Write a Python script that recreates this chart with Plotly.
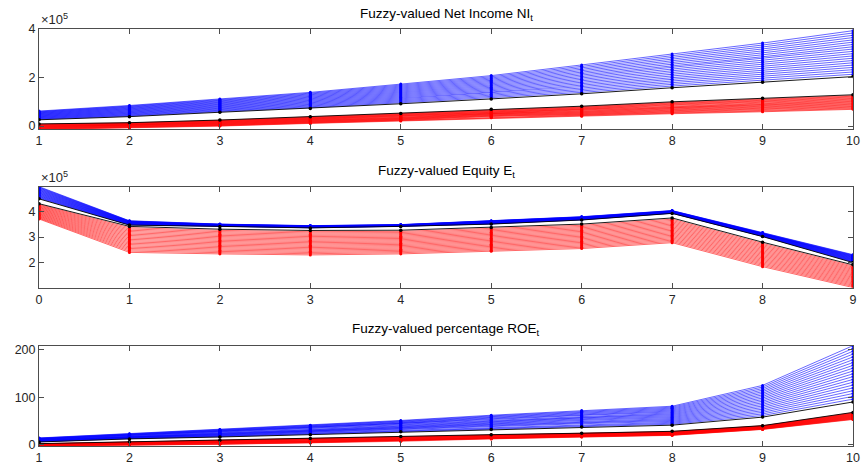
import plotly.graph_objects as go
from plotly.subplots import make_subplots

# ---------------- data ----------------
# Net income NI_t, units of 1e5, t = 1..10
ni_t = [1, 2, 3, 4, 5, 6, 7, 8, 9, 10]
ni_upper = [0.62, 0.85, 1.12, 1.39, 1.73, 2.08, 2.52, 2.97, 3.42, 3.93]   # blue outer bound
ni_core_hi = [0.26, 0.39, 0.57, 0.73, 0.92, 1.12, 1.33, 1.58, 1.81, 2.04]  # black (blue side)
ni_core_lo = [0.09, 0.14, 0.25, 0.39, 0.52, 0.69, 0.82, 1.00, 1.15, 1.29]  # black (red side)
ni_lower = [-0.14, -0.07, 0.00, 0.11, 0.21, 0.34, 0.41, 0.51, 0.59, 0.69]  # red outer bound

# Equity E_t, units of 1e5, t = 0..9
eq_t = [0, 1, 2, 3, 4, 5, 6, 7, 8, 9]
eq_upper = [4.98, 3.64, 3.51, 3.45, 3.49, 3.64, 3.80, 4.04, 3.18, 2.31]
eq_core_hi = [4.50, 3.47, 3.42, 3.36, 3.42, 3.51, 3.67, 3.93, 3.02, 2.00]
eq_core_lo = [4.31, 3.42, 3.31, 3.26, 3.27, 3.38, 3.51, 3.75, 2.80, 1.91]
eq_lower = [3.71, 2.40, 2.34, 2.30, 2.34, 2.44, 2.55, 2.78, 1.84, 1.02]

# ROE_t in percent, t = 1..10
roe_t = [1, 2, 3, 4, 5, 6, 7, 8, 9, 10]
roe_upper = [14, 23, 32, 41, 51, 62, 72, 81, 125, 209]
roe_core_hi = [5.5, 12, 16, 21, 27, 32, 37, 41, 58, 90]
roe_core_lo = [2, 6, 9, 13, 17, 21, 24, 28, 40, 68]
roe_lower = [-3, -1.5, 0.6, 3.6, 7, 12, 16, 19.5, 32, 53]

n_alpha = 20  # number of alpha steps between the outer bound and the core

titles = ["Fuzzy-valued Net Income NI<sub>t</sub>",
          "Fuzzy-valued Equity E<sub>t</sub>",
          "Fuzzy-valued percentage ROE<sub>t</sub>"]

BLUE = "rgb(0,0,255)"
RED = "rgb(255,0,0)"
FONT = "Liberation Sans, Arial, sans-serif"
TXT = "#262626"
AX = "#4d4d4d"

fig = make_subplots(rows=3, cols=1)


def fan(x, outer, core):
    xs, ys = [], []
    for k in range(n_alpha):
        a = k / n_alpha
        xs += list(x) + [None]
        ys += [o + a * (c - o) for o, c in zip(outer, core)] + [None]
    return xs, ys


def add_group(row, x, upper, core_hi, core_lo, lower):
    for outer, core, col in ((upper, core_hi, BLUE), (lower, core_lo, RED)):
        xs, ys = fan(x, outer, core)
        fig.add_trace(go.Scatter(x=xs, y=ys, mode="lines+markers",
                                 line=dict(color=col, width=0.6),
                                 marker=dict(color=col, size=3),
                                 showlegend=False, hoverinfo="skip"),
                      row=row, col=1)
    for core in (core_hi, core_lo):
        fig.add_trace(go.Scatter(x=x, y=core, mode="lines+markers",
                                 line=dict(color="black", width=0.9),
                                 marker=dict(color="black", size=3.5),
                                 showlegend=False, hoverinfo="skip"),
                      row=row, col=1)


add_group(1, ni_t, ni_upper, ni_core_hi, ni_core_lo, ni_lower)
add_group(2, eq_t, eq_upper, eq_core_hi, eq_core_lo, eq_lower)
add_group(3, roe_t, roe_upper, roe_core_hi, roe_core_lo, roe_lower)

axis_common = dict(showline=True, linecolor=AX, linewidth=1, mirror="ticks",
                   ticks="inside", ticklen=5, tickcolor=AX, showgrid=False,
                   zeroline=False, tickfont=dict(family=FONT, size=12.5, color=TXT))

domains = [[0.759, 1.0], [0.380, 0.622], [0.0, 0.2407]]
xranges = [[1, 10], [0, 9], [1, 10]]
yranges = [[-0.14, 4.0], [1.02, 4.98], [-3, 209]]
yticks = [[0, 2, 4], [2, 3, 4], [0, 100, 200]]

for i in range(3):
    fig.update_xaxes(range=xranges[i], tickmode="linear", tick0=0, dtick=1,
                     row=i + 1, col=1, **axis_common)
    fig.update_yaxes(range=yranges[i], tickvals=yticks[i], domain=domains[i],
                     row=i + 1, col=1, **axis_common)

ann = []
title_y = [1.034, 0.6586, 0.2787]
for i in range(3):
    ann.append(dict(text=titles[i], x=0.5, y=title_y[i], xref="paper", yref="paper",
                    xanchor="center", yanchor="middle", showarrow=False,
                    font=dict(family=FONT, size=13.5, color="black")))
for yd in (domains[0][1], domains[1][1]):
    ann.append(dict(text="\u00d710<sup>5</sup>", x=0, y=yd, xref="paper", yref="paper",
                    xanchor="left", yanchor="bottom", showarrow=False,
                    font=dict(family=FONT, size=13, color=TXT)))

fig.update_layout(width=865, height=470, margin=dict(l=39, r=5, t=29.3, b=22.7),
                  paper_bgcolor="white", plot_bgcolor="white", annotations=ann,
                  showlegend=False)

fig.write_html("out.html")
